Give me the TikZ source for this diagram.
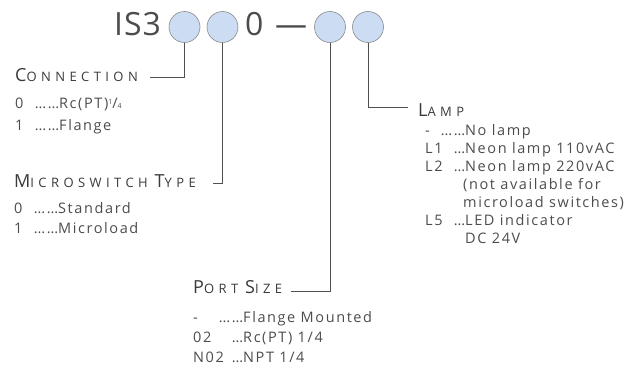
\documentclass[tikz,border=0pt]{standalone}
\usepackage{fontspec}
\setmainfont{Open Sans}
\newfontfamily\bodyfont[LetterSpace=11]{Open Sans}
\newfontfamily\headfont[LetterSpace=34]{Open Sans}
\newfontfamily\codefont[LetterSpace=3]{Open Sans}
\definecolor{txt}{HTML}{4C4C4C}
\definecolor{head}{HTML}{3A3A3A}
\definecolor{bubble}{HTML}{CCDCF2}
\definecolor{bubbleedge}{HTML}{8A8A8A}
\definecolor{wire}{HTML}{505050}
\newcommand\hdbig[1]{{\fontsize{18}{18}\selectfont #1}}
\newcommand\hdsmall[1]{{\fontsize{13}{13}\selectfont #1}}
\newcommand\rw[4]{\makebox[#1][l]{#2}\makebox[#3][r]{#4}}
\begin{document}
\begin{tikzpicture}[x=1pt,y=-1pt,
  bub/.style={circle,draw=bubbleedge,fill=bubble,line width=0.6pt,minimum size=31pt,inner sep=0pt},
  wirel/.style={draw=wire,line width=0.8pt},
  headtxt/.style={inner sep=0pt,text=head,font=\headfont},
  code/.style={inner sep=0pt,text=txt,font=\codefont\fontsize{32}{32}\selectfont},
  listtxt/.style={inner sep=0pt,text=txt,align=left,font=\bodyfont\fontsize{14.5}{#1}\selectfont},
  listtxt/.default=21]
\useasboundingbox (0,0) rectangle (633,368);
% code line
\node[code,anchor=base west] (is3) at (114,35) {IS3};
\node[bub] (c1) at (184.5,27) {};
\node[bub] (c2) at (222.5,27) {};
\node[code,anchor=base west] (zero) at (245,35) {0};
\node[code,anchor=base] (dash) at (291,35) {—};
\node[bub] (c3) at (330,27) {};
\node[bub] (c4) at (368,27) {};
% headings
\node[headtxt,anchor=base west] (hconn) at (15,81) {\hdbig{C}\hdsmall{ONNECTION}};
\node[headtxt,anchor=base west] (hmicro) at (14,187) {\hdbig{M}\hdsmall{ICROSWITCH}\hspace{7pt}\hdbig{T}\hdsmall{YPE}};
\node[headtxt,anchor=base west] (hport) at (193,293) {\hdbig{P}\hdsmall{ORT}\hspace{7pt}\hdbig{S}\hdsmall{IZE}};
\node[headtxt,anchor=base west] (hlamp) at (418,116) {\hdbig{L}\hdsmall{AMP}};
% connector ends
\coordinate (e1) at (150,77);
\coordinate (e2) at (213,183);
\coordinate (e3) at (291,291);
\coordinate (e4) at (408,107);
\draw[wirel] (c1.south) |- (e1);
\draw[wirel] (c2.south) |- (e2);
\draw[wirel] (c3.south) |- (e3);
\draw[wirel] (c4.south) |- (e4);
% lists (anchored at the baseline of their last line)
\node[listtxt=22,anchor=base west] (lconn) at (15,130) {%
  \rw{16pt}{0}{28pt}{……}Rc(PT)\raisebox{3.5pt}{\fontsize{7}{7}\selectfont 1}/{\fontsize{7}{7}\selectfont 4}\\
  \rw{16pt}{1}{28pt}{……}Flange};
\node[listtxt=20,anchor=base west] (lmicro) at (14,233) {%
  \rw{16pt}{0}{28pt}{……}Standard\\
  \rw{16pt}{1}{28pt}{……}Microload};
\node[listtxt=20,anchor=base west] (lport) at (193,362) {%
  \rw{16pt}{-}{34pt}{……}Flange Mounted\\
  \rw{30pt}{02}{20pt}{…}Rc(PT) 1/4\\
  \rw{30pt}{N02}{20pt}{…}NPT 1/4};
\node[listtxt=18,anchor=base west] (llamp) at (425,243) {%
  \rw{10pt}{-}{30pt}{……}No lamp\\
  \rw{24pt}{L1}{16pt}{…}Neon lamp 110vAC\\
  \rw{24pt}{L2}{16pt}{…}Neon lamp 220vAC\\
  \rw{38pt}{}{0pt}{}(not available for\\
  \rw{38pt}{}{0pt}{}microload switches)\\
  \rw{24pt}{L5}{16pt}{…}LED indicator\\
  \rw{40pt}{}{0pt}{}DC 24V};
\end{tikzpicture}
\end{document}
